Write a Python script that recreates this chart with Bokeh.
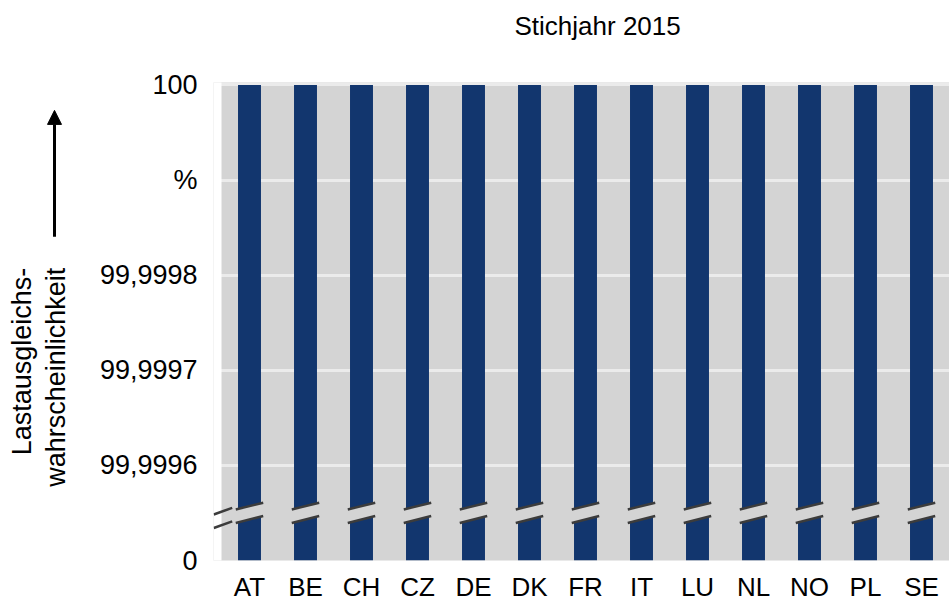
import math
from bokeh.plotting import figure
from bokeh.layouts import row
from bokeh.models import Range1d, FixedTicker, Label, Arrow, NormalHead, ColumnDataSource, Title
from bokeh.embed import file_html
from bokeh.resources import INLINE

# ---- data ----
categories = ["AT", "BE", "CH", "CZ", "DE", "DK", "FR", "IT", "LU", "NL", "NO", "PL", "SE"]
values = [100, 100, 100, 100, 100, 100, 100, 100, 100, 100, 100, 100, 100]
y_tick_values = [0, 99.9996, 99.9997, 99.9998, 99.9999, 100]
y_tick_labels = ["0", "99,9996", "99,9997", "99,9998", "%", "100"]
title_text = "Stichjahr 2015"
y_title_lines = ["Lastausgleichs-", "wahrscheinlichkeit"]

# broken axis: 0 at bottom, then 99.9996 ... 100 in steps of 0.0001
BREAK_LOW = 99.9995
STEP = 0.0001


def pos(v):
    return 0.0 if v < BREAK_LOW else (v - BREAK_LOW) / STEP


FONT = "Liberation Sans"
BAR = "#12366E"
BG = "#D4D4D4"
MARK = "#3C3C3C"
H = 604
LEFT_W = 90
FRAME_TOP = 82
FRAME_BOTTOM = 562

# ---------------- left panel: rotated axis title + arrow ----------------
left = figure(width=LEFT_W, height=H, x_range=Range1d(0, LEFT_W),
              y_range=Range1d(FRAME_BOTTOM, FRAME_TOP),
              x_axis_type=None, y_axis_type=None, output_backend="svg", toolbar_location=None,
              min_border=0, min_border_left=0, min_border_right=0,
              min_border_top=FRAME_TOP, min_border_bottom=H - FRAME_BOTTOM)
left.outline_line_color = None
left.xgrid.visible = False
left.ygrid.visible = False
left.background_fill_color = "white"
left.border_fill_color = "white"
left.add_layout(Label(x=21.5, y=268, text=y_title_lines[0], angle=math.pi / 2,
                      text_align="right", text_baseline="alphabetic",
                      text_font=FONT, text_font_size="27px", text_color="black"))
left.add_layout(Label(x=55.5, y=268, text=y_title_lines[1], angle=math.pi / 2,
                      text_align="right", text_baseline="alphabetic",
                      text_font=FONT, text_font_size="27px", text_color="black"))
left.add_layout(Arrow(x_start=54, y_start=237, x_end=54, y_end=110,
                      line_color="black", line_width=3,
                      end=NormalHead(size=14, fill_color="black", line_color="black")))

# ---------------- main chart ----------------
n = len(categories)
xpos = [i + 0.5 for i in range(n)]
p = figure(width=949 - LEFT_W, height=H,
           x_range=Range1d(-8 / 56, n), y_range=Range1d(0, 5.025),
           title=None, output_backend="svg", toolbar_location=None,
           min_border_left=213 - LEFT_W, min_border_right=0,
           min_border_top=FRAME_TOP, min_border_bottom=H - FRAME_BOTTOM)

p.background_fill_color = BG
p.border_fill_color = "white"
p.outline_line_color = None

# bars
src = ColumnDataSource(dict(x=xpos, cat=categories, top=[pos(v) for v in values]))
p.vbar(x="x", top="top", bottom=0, width=0.41, source=src,
       fill_color=BAR, line_color=None)

# white strip left of the plot area (so the axis break marks can stick out)
p.quad(left=-1, right=0, bottom=-1, top=6, fill_color="white", line_color=None)

# break marks across each bar
gx, gy, l1x, l1y, l2x, l2y = [], [], [], [], [], []
for cx in xpos:
    x0, x1 = cx - 0.245, cx + 0.245
    gx.append([x0, x1, x1, x0])
    gy.append([0.394, 0.468, 0.607, 0.537])
    l1x.append([x0, x1]); l1y.append([0.537, 0.607])
    l2x.append([x0, x1]); l2y.append([0.394, 0.468])
p.patches(gx, gy, fill_color=BG, line_color=None)
p.multi_line(l1x, l1y, line_color=MARK, line_width=2.5)
p.multi_line(l2x, l2y, line_color=MARK, line_width=2.5)

# break marks at the axis
p.multi_line([[-0.1375, 0.191], [-0.1375, 0.191]], [[0.484, 0.554], [0.342, 0.411]],
             line_color=MARK, line_width=2.5)

# axes
p.xaxis.ticker = FixedTicker(ticks=xpos)
p.xaxis.major_label_overrides = {x: c for x, c in zip(xpos, categories)}
p.yaxis.ticker = FixedTicker(ticks=[round(pos(v)) for v in y_tick_values])
p.yaxis.major_label_overrides = {round(pos(v)): lab for v, lab in zip(y_tick_values, y_tick_labels)}
for ax in (p.xaxis, p.yaxis):
    ax.axis_line_color = None
    ax.major_tick_line_color = None
    ax.minor_tick_line_color = None
    ax.major_tick_out = 0
    ax.major_tick_in = 0
    ax.major_label_text_font = FONT
    ax.major_label_text_color = "black"
p.yaxis.major_label_text_font_size = "27px"
p.xaxis.major_label_text_font_size = "26px"
p.yaxis.major_label_standoff = 16
p.xaxis.major_label_standoff = 11

p.ygrid.grid_line_color = "#EBEBEB"
p.ygrid.grid_line_width = 3
p.xgrid.grid_line_color = None

# spacer (closest to the frame) then the title
p.add_layout(Title(text=" ", text_font_size="1px", standoff=34), "above")
p.add_layout(Title(text=title_text, align="left", offset=301, text_font=FONT,
                   text_font_size="26px", text_font_style="normal", text_color="black",
                   standoff=10), "above")

layout = row(left, p)
open("out.html", "w").write(file_html(layout, INLINE))
